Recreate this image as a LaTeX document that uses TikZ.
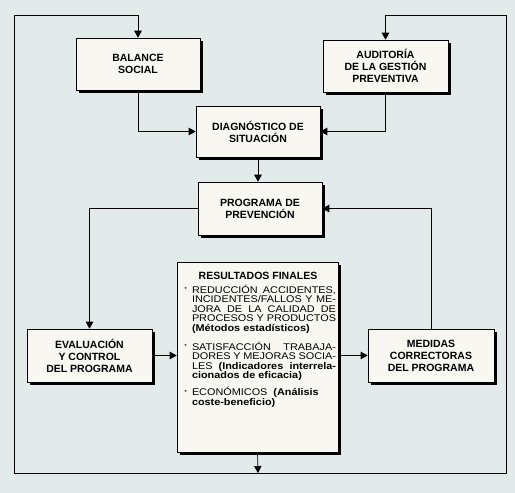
\documentclass[tikz,border=0pt]{standalone}
\usepackage{fontspec}
\setmainfont{Liberation Sans}
\newfontfamily\resfont[FakeStretch=1.12]{Liberation Sans}
\usetikzlibrary{arrows.meta, shadows}
\definecolor{bgPage}{HTML}{E3EBEA}
\definecolor{boxFill}{HTML}{F8F7F2}
\newcommand{\titlefont}{\fontsize{10.5}{12}\selectfont\bfseries}
\newcommand{\jline}[1]{\makebox[\linewidth][s]{#1}\par}
\newcommand{\bitem}{\leavevmode\llap{\raisebox{1.5pt}{\fontsize{6}{6}\selectfont *}\hspace{5pt}}}

\tikzset{
  stepbox/.style={draw, fill=boxFill, line width=0.6pt, align=center,
    font=\titlefont, inner sep=0pt, minimum width=124pt, minimum height=52pt,
    drop shadow={shadow xshift=3pt, shadow yshift=-3pt, fill=black, opacity=1}},
  resbox/.style={draw, fill=boxFill, line width=0.6pt, inner sep=0pt,
    drop shadow={shadow xshift=3pt, shadow yshift=-3pt, fill=black, opacity=1}},
  arr/.style={-{Triangle[length=7pt, width=7.5pt]}, line width=0.7pt},
  link/.style={line width=0.7pt}
}

\begin{document}
\begin{tikzpicture}[x=1pt, y=-1pt]
  \fill[bgPage] (0,0) rectangle (515,493);
  \useasboundingbox (0,0) rectangle (515,493);

  % upper boxes
  \node[stepbox] (bal) at (138,64) {BALANCE\\SOCIAL};
  \node[stepbox, minimum width=125pt] (aud) at (385.5,66) {AUDITOR\'IA\\DE LA GESTI\'ON\\PREVENTIVA};
  \node[stepbox, minimum height=51pt] (diag) at (258,131.5) {DIAGN\'OSTICO DE\\SITUACI\'ON};
  \node[stepbox, minimum height=53pt] (prog) at (260,208.5) {PROGRAMA DE\\PREVENCI\'ON};

  % lower row
  \node[stepbox, minimum width=125pt, minimum height=53pt] (eval) at (89.5,355.5) {EVALUACI\'ON\\Y CONTROL\\DEL PROGRAMA};
  \node[stepbox, minimum width=126pt, minimum height=53pt] (med) at (431,355.5) {MEDIDAS\\CORRECTORAS\\DEL PROGRAMA};
  \node[resbox] (res) at (257.5,357) {\hspace*{15pt}\parbox[t][190pt][t]{144pt}{%
    \lineskiplimit=-20pt
    \titlefont\rule{0pt}{17pt}\makebox[\linewidth][c]{\hspace*{-12pt}RESULTADOS FINALES}\par
    \resfont\mdseries\fontsize{9.7}{9.5}\selectfont\vspace{4.5pt}
    \bitem\jline{REDUCCI\'ON ACCIDENTES,}
    \jline{INCIDENTES/FALLOS Y ME-}
    \jline{JORA DE LA CALIDAD DE}
    \jline{PROCESOS Y PRODUCTOS}
    \textbf{(M\'etodos estad\'isticos)}\par
    \vspace{9.5pt}
    \bitem\jline{SATISFACCI\'ON TRABAJA-}
    \jline{DORES Y MEJORAS SOCIA-}
    \jline{LES \textbf{(Indicadores interrela-}}
    \textbf{cionados de eficacia)}\par
    \vspace{7.5pt}
    \bitem ECON\'OMICOS\ \ \textbf{(An\'alisis}\par
    \textbf{coste-beneficio)}\par}\hspace*{2pt}};

  % loop round the frame
  \coordinate (loopB) at (258,473);
  \coordinate (cornNW) at (14,15);
  \coordinate (cornNE) at (506,15);

  \draw[arr] (bal.south) |- (diag.west);
  \draw[arr] (aud.south) |- (diag.east);
  \draw[arr] (diag.south) -- (diag.south |- prog.north);
  \draw[arr] (prog.west) -| (eval.north);
  \draw[arr] (med.north) |- (prog.east);
  \draw[arr] (eval.east) -- (eval.east -| res.west);
  \draw[arr] (med.west -| res.east) -- (med.west);
  \draw[arr] (res.south) -- (loopB);
  \draw[arr] (loopB) -| (cornNW) -| (bal.north);
  \draw[arr] (loopB) -| (cornNE) -| (aud.north);
\end{tikzpicture}
\end{document}
